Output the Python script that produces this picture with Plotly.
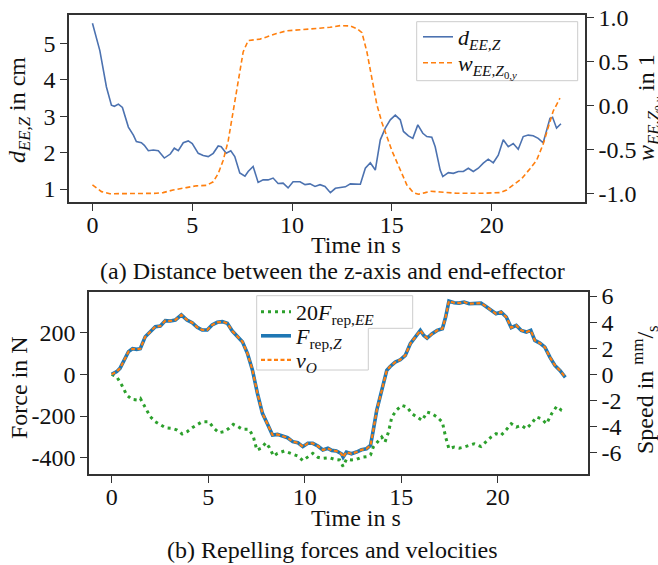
import plotly.graph_objects as go

# ---------------- data ----------------
# (a) distance between z-axis and end-effector
t_d = [0, 0.37, 0.7, 0.95, 1.1, 1.3, 1.5, 1.8, 2.05, 2.2, 2.45, 2.6, 2.8, 3.05, 3.3, 3.6, 3.9, 4.1, 4.3,
       4.55, 4.8, 5.0, 5.3, 5.55, 5.8, 6.05, 6.3, 6.45, 6.7, 6.93, 7.13, 7.38, 7.64, 7.8, 8.05, 8.3, 8.55,
       8.8, 9.05, 9.3, 9.55, 9.8, 10.05, 10.4, 10.65, 10.9, 11.15, 11.4, 11.65, 11.92, 12.17, 12.42, 12.67,
       12.92, 13.17, 13.42, 13.67, 13.92, 14.17, 14.42, 14.67, 14.92, 15.17, 15.42, 15.58, 15.83, 16.05,
       16.3, 16.55, 16.75, 17.0, 17.17, 17.42, 17.55, 17.83, 18.08, 18.33, 18.58, 18.83, 19.08, 19.33,
       19.58, 19.83, 20.08, 20.33, 20.58, 20.83, 21.08, 21.33, 21.58, 21.83, 22.08, 22.33, 22.58, 22.92,
       23.05, 23.25, 23.47]
d_EE_Z = [5.55, 4.8, 3.8, 3.3, 3.27, 3.33, 3.24, 2.7, 2.48, 2.3, 2.27, 2.2, 2.05, 2.07, 2.05, 1.85, 1.96,
          2.12, 2.05, 2.27, 2.32, 2.25, 1.98, 1.92, 1.89, 1.98, 2.18, 2.16, 1.98, 2.05, 1.89, 1.44, 1.35,
          1.48, 1.62, 1.18, 1.25, 1.25, 1.3, 1.15, 1.16, 1.03, 1.2, 1.2, 1.12, 1.14, 1.07, 1.12, 1.07, 0.9,
          1.02, 1.04, 1.06, 1.14, 1.13, 1.13, 1.57, 1.72, 1.52, 2.35, 2.67, 2.9, 3.03, 2.9, 2.58, 2.46,
          2.39, 2.76, 2.53, 2.44, 2.42, 2.16, 1.52, 1.34, 1.45, 1.43, 1.48, 1.48, 1.57, 1.48, 1.57, 1.71,
          1.82, 1.72, 1.93, 2.35, 2.16, 2.25, 2.09, 2.44, 2.48, 2.46, 2.39, 2.27, 2.94, 2.97, 2.67, 2.79]

t_w = [0, 0.2, 0.45, 0.87, 2.04, 3.2, 3.54, 4.04, 4.71, 5.21, 5.71, 6.05, 6.3, 6.55, 6.8, 7.05, 7.3, 7.55,
       7.8, 8.05, 8.39, 8.72, 9.22, 9.72, 10.39, 11.22, 11.9, 12.42, 12.92, 13.25, 13.5, 13.75, 14.0,
       14.25, 14.5, 14.75, 15.0, 15.25, 15.5, 15.75, 16.08, 16.33, 16.67, 16.92, 17.42, 18.25, 19.42,
       20.42, 20.75, 21.08, 21.5, 21.92, 22.25, 22.58, 22.83, 23.08, 23.42]
w_EE = [-0.9, -0.93, -0.976, -1.0, -1.0, -0.995, -0.987, -0.957, -0.93, -0.91, -0.905, -0.864, -0.77,
        -0.62, -0.4, -0.06, 0.31, 0.61, 0.74, 0.75, 0.756, 0.78, 0.82, 0.85, 0.86, 0.88, 0.89, 0.91,
        0.905, 0.875, 0.83, 0.61, 0.31, 0.01, -0.19, -0.36, -0.51, -0.64, -0.77, -0.9, -0.987, -1.005,
        -0.987, -0.972, -0.98, -0.995, -0.995, -0.987, -0.957, -0.9, -0.83, -0.715, -0.62, -0.436,
        -0.25, -0.063, 0.086]

# (b) repelling forces and velocities
t_F = [0, 0.26, 0.43, 0.64, 0.87, 1.08, 1.3, 1.48, 1.74, 2.0, 2.26, 2.52, 2.78, 3.04, 3.3, 3.61, 3.9,
       4.17, 4.43, 4.69, 4.95, 5.2, 5.47, 5.73, 5.99, 6.25, 6.51, 6.77, 7.03, 7.29, 7.55, 7.81, 8.07,
       8.33, 8.59, 8.85, 9.11, 9.38, 9.64, 9.9, 10.16, 10.42, 10.68, 10.94, 11.2, 11.4, 11.64, 11.9,
       11.99, 12.16, 12.42, 12.68, 12.94, 13.2, 13.41, 13.55, 13.73, 13.99, 14.25, 14.43, 14.69, 14.95,
       15.21, 15.47, 15.73, 15.99, 16.17, 16.34, 16.6, 16.86, 17.13, 17.3, 17.47, 17.74, 18.0, 18.26,
       18.52, 18.78, 19.13, 19.39, 19.65, 19.91, 20.17, 20.44, 20.7, 20.96, 21.22, 21.48, 21.71, 21.92,
       22.18, 22.44, 22.7, 22.96, 23.22, 23.5]
F_rep_Z = [0, 13, 29, 69, 109, 123, 120, 123, 181, 205, 229, 232, 258, 256, 261, 285, 261, 248, 226,
           213, 213, 237, 250, 253, 245, 208, 181, 157, 101, 21, -91, -187, -238, -291, -288, -296,
           -304, -323, -328, -347, -331, -331, -344, -363, -355, -365, -368, -381, -397, -373, -381,
           -373, -362, -357, -341, -269, -173, -77, 19, 38, 59, 70, 91, 147, 179, 211, 187, 174, 195,
           211, 219, 275, 352, 344, 342, 347, 339, 339, 342, 326, 307, 291, 299, 275, 224, 235, 211,
           203, 211, 163, 150, 131, 83, 43, 19, -14]
v_O = [0.00, 0.21, 0.46, 1.10, 1.74, 1.96, 1.92, 1.96, 2.89, 3.27, 3.66, 3.70, 4.12, 4.09, 4.17, 4.55,
       4.17, 3.96, 3.61, 3.40, 3.40, 3.78, 3.99, 4.04, 3.91, 3.32, 2.89, 2.51, 1.61, 0.34, -1.45,
       -2.98, -3.80, -4.64, -4.60, -4.72, -4.85, -5.16, -5.24, -5.54, -5.28, -5.28, -5.49, -5.79,
       -5.67, -5.83, -5.87, -6.08, -6.34, -5.95, -6.08, -5.95, -5.78, -5.70, -5.44, -4.29, -2.76,
       -1.23, 0.30, 0.61, 0.94, 1.12, 1.45, 2.35, 2.86, 3.37, 2.98, 2.78, 3.11, 3.37, 3.50, 4.39,
       5.62, 5.49, 5.46, 5.54, 5.41, 5.41, 5.46, 5.20, 4.90, 4.64, 4.77, 4.39, 3.58, 3.75, 3.37,
       3.24, 3.37, 2.60, 2.39, 2.09, 1.32, 0.69, 0.30, -0.22]

t_g = [0, 0.26, 0.52, 0.78, 1.04, 1.3, 1.48, 1.74, 2.0, 2.26, 2.52, 2.78, 3.13, 3.39, 3.65, 3.91, 4.17,
       4.43, 4.69, 5.03, 5.3, 5.56, 5.82, 6.08, 6.3, 6.55, 6.77, 7.12, 7.34, 7.52, 7.73, 7.99, 8.16,
       8.39, 8.59, 8.94, 9.29, 9.64, 9.9, 10.16, 10.42, 10.68, 10.94, 11.28, 11.55, 11.81, 11.99,
       12.16, 12.42, 12.68, 12.94, 13.2, 13.41, 13.55, 13.82, 13.99, 14.16, 14.34, 14.51, 14.77,
       15.03, 15.3, 15.56, 15.82, 16.08, 16.34, 16.6, 16.86, 17.13, 17.3, 17.47, 17.74, 18.0, 18.26,
       18.52, 18.78, 19.13, 19.39, 19.65, 19.91, 20.17, 20.44, 20.7, 20.96, 21.22, 21.48, 21.74,
       22.0, 22.26, 22.53, 22.79, 23.05, 23.31, 23.5]
F_rep_EE20 = [0, -11, -51, -99, -120, -123, -115, -163, -203, -227, -243, -256, -259, -267, -286,
              -275, -256, -243, -227, -227, -259, -280, -275, -259, -240, -251, -264, -264, -299,
              -363, -355, -328, -350, -392, -379, -368, -379, -392, -414, -395, -379, -398, -403,
              -400, -408, -411, -442, -408, -411, -408, -398, -395, -387, -349, -317, -301, -325,
              -277, -205, -170, -149, -157, -189, -205, -221, -181, -189, -205, -229, -301, -357,
              -349, -354, -349, -341, -333, -346, -325, -301, -285, -293, -266, -237, -253, -245,
              -261, -237, -205, -213, -237, -189, -154, -173, -179]

x_ticks = [0, 5, 10, 15, 20]
d_ticks = [1, 2, 3, 4, 5]
w_ticks = [1.0, 0.5, 0.0, -0.5, -1.0]
w_ticktext = ["1.0", "0.5", "0.0", "-0.5", "-1.0"]
F_ticks = [200, 0, -200, -400]
F_ticktext = ["200", "0", "-200", "-400"]
v_ticks = [6, 4, 2, 0, -2, -4, -6]
v_ticktext = ["6", "4", "2", "0", "-2", "-4", "-6"]

# ---------------- layout helpers ----------------
W, H = 658, 565
def px(x):
    return x / W
def py(y):
    return 1 - y / H

FONT = "Liberation Serif"
TXT = "#111111"
AX = "#333333"
FS = 24
LFS = 22

BLUE_A = "#4c72b0"
BLUE = "#1f77b4"
ORANGE = "#ff7f0e"
GREEN = "#2ca02c"

fig = go.Figure()

# (a)
fig.add_trace(go.Scatter(x=t_d, y=d_EE_Z, mode="lines", xaxis="x", yaxis="y",
                         line=dict(color=BLUE_A, width=1.6), showlegend=True,
                         name="<i>d</i><sub><i>EE,Z</i></sub>", legend="legend"))
fig.add_trace(go.Scatter(x=t_w, y=w_EE, mode="lines", xaxis="x", yaxis="y2",
                         line=dict(color=ORANGE, width=1.6, dash="5px,3px"), showlegend=True,
                         name="<i>w</i><sub><i>EE,Z</i><sub>0,<i>y</i></sub></sub>", legend="legend2"))

# (b)
fig.add_trace(go.Scatter(x=t_g, y=F_rep_EE20, mode="lines", xaxis="x2", yaxis="y3",
                         line=dict(color=GREEN, width=3, dash="3px,4px"), showlegend=True,
                         name="20<i>F</i><sub>rep,<i>EE</i></sub>", legend="legend3"))
fig.add_trace(go.Scatter(x=t_F, y=F_rep_Z, mode="lines", xaxis="x2", yaxis="y3",
                         line=dict(color=BLUE, width=3.6), showlegend=True,
                         name="<i>F</i><sub>rep,<i>Z</i></sub>", legend="legend4"))
fig.add_trace(go.Scatter(x=t_F, y=v_O, mode="lines", xaxis="x2", yaxis="y4",
                         line=dict(color=ORANGE, width=2.2, dash="4px,2.5px"), showlegend=True,
                         name="<i>v</i><sub><i>O</i></sub>", legend="legend5"))

k = 62.65
F_range = [-479.7, 396.8]

axis_common = dict(showline=True, linecolor=AX, linewidth=1.6, ticks="outside", ticklen=7,
                   tickwidth=1.3, tickcolor=AX, showgrid=False, zeroline=False, automargin=False,
                   tickfont=dict(family=FONT, size=FS, color=TXT))

def leg(x, y):
    return dict(x=px(x), y=py(y), xanchor="left", yanchor="middle",
                bgcolor="rgba(0,0,0,0)", borderwidth=0, itemwidth=30, tracegroupgap=0,
                font=dict(family=FONT, size=LFS, color=TXT))

fig.update_layout(
    width=W, height=H, margin=dict(l=0, r=0, t=0, b=0, autoexpand=False),
    paper_bgcolor="white", plot_bgcolor="white", showlegend=True,
    font=dict(family=FONT, size=FS, color=TXT),
    xaxis=dict(domain=[px(69), px(585)], range=[-1.175, 24.675], tickvals=x_ticks,
               anchor="y", mirror=True, ticklabelstandoff=-7, **axis_common),
    yaxis=dict(domain=[py(202.3), py(15)], range=[0.635, 5.777], tickvals=d_ticks,
               anchor="x", mirror=True, **axis_common),
    yaxis2=dict(overlaying="y", side="right", anchor="x", range=[-1.097, 1.03],
                tickvals=w_ticks, ticktext=w_ticktext, **axis_common),
    xaxis2=dict(domain=[px(89), px(588)], range=[-1.175, 24.675], tickvals=x_ticks,
                anchor="y3", mirror=True, ticklabelstandoff=-7, **axis_common),
    yaxis3=dict(domain=[py(474.3), py(291.7)], range=F_range, tickvals=F_ticks,
                ticktext=F_ticktext, anchor="x2", mirror=True, **axis_common),
    yaxis4=dict(overlaying="y3", side="right", anchor="x2",
                range=[F_range[0] / k, F_range[1] / k], tickvals=v_ticks,
                ticktext=v_ticktext, **axis_common),
    legend=leg(418, 37),
    legend2=leg(418, 63),
    legend3=leg(256, 312),
    legend4=leg(256, 336),
    legend5=leg(256, 360),
)

# legend frames
fig.add_shape(type="rect", xref="paper", yref="paper",
              x0=px(416.7), x1=px(577.7), y0=py(80.7), y1=py(21.7),
              line=dict(color="#cccccc", width=1), fillcolor="white", layer="above")
path = ("M {a},{b} L {c},{b} L {c},{d} L {e},{d} L {e},{f} L {a},{f} Z").format(
    a=px(256.7), b=py(295.7), c=px(412.7), d=py(328.3), e=px(368.3), f=py(370))
fig.add_shape(type="path", xref="paper", yref="paper", path=path,
              line=dict(color="#cccccc", width=1), fillcolor="white", layer="above")

def ann(text, x, y, size=FS, angle=0):
    fig.add_annotation(text=text, x=px(x), y=py(y), xref="paper", yref="paper",
                       showarrow=False, textangle=angle, xanchor="center", yanchor="middle",
                       font=dict(family=FONT, size=size, color=TXT))

ann("<i>d</i><sub><i>EE,Z</i></sub> in cm", 19, 110, angle=-90)
ann("<i>w</i><sub><i>EE,Z</i><sub>0,<i>y</i></sub></sub> in 1", 650, 108, angle=-90)
ann("Time in s", 356, 245)
ann("(a) Distance between the z-axis and end-effector", 332, 271)
ann("Force in N", 19, 388, angle=-90)
ann("Speed in <sup>mm</sup>/<sub>s</sub>", 645, 390, angle=-90)
ann("Time in s", 356, 518)
ann("(b) Repelling forces and velocities", 332, 550)

fig.write_html("out.html", config={"displayModeBar": False},
               post_script="document.body.style.margin='0';document.body.style.overflow='hidden';")
